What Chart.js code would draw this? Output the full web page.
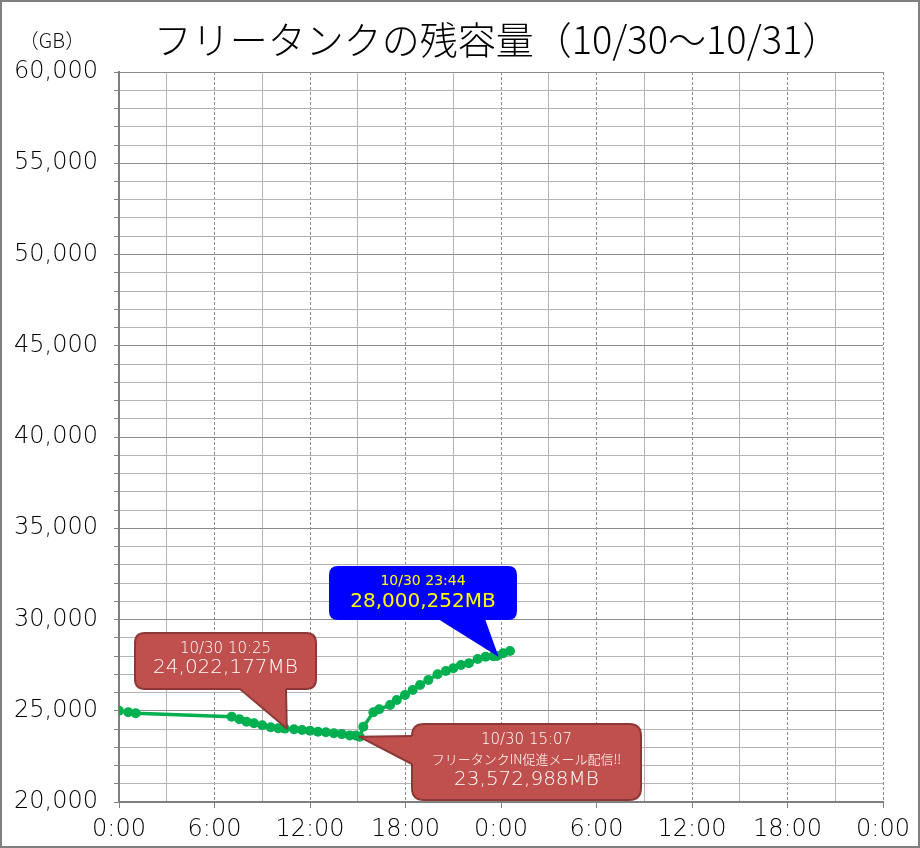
<!DOCTYPE html>
<html>
<head>
<meta charset="utf-8">
<script src="https://cdn.jsdelivr.net/npm/chart.js@4/dist/chart.umd.min.js"></script>
<style>
  html, body { margin: 0; padding: 0; background: #fff; }
  #wrap { width: 920px; height: 848px; position: relative; }
</style>
</head>
<body>
<div id="wrap"><canvas id="c" width="920" height="848"></canvas></div>
<script>
// ---- data ----
const chartTitle = 'フリータンクの残容量（10/30～10/31）';
const unitLabel = '（GB）';
const xTickLabels = ['0:00', '6:00', '12:00', '18:00', '0:00', '6:00', '12:00', '18:00', '0:00'];
const sampleTimes = [
  '10/30 0:00', '10/30 0:35', '10/30 1:03', '10/30 7:05', '10/30 7:34', '10/30 8:01',
  '10/30 8:29', '10/30 9:00', '10/30 9:32', '10/30 10:00', '10/30 10:25', '10/30 11:00',
  '10/30 11:30', '10/30 12:00', '10/30 12:30', '10/30 13:00', '10/30 13:30', '10/30 14:00',
  '10/30 14:30', '10/30 14:53', '10/30 15:07', '10/30 15:21', '10/30 15:59', '10/30 16:21',
  '10/30 17:02', '10/30 17:27', '10/30 17:58', '10/30 18:27', '10/30 18:55', '10/30 19:26',
  '10/30 20:01', '10/30 20:32', '10/30 21:00', '10/30 21:29', '10/30 21:59', '10/30 22:32',
  '10/30 23:02', '10/30 23:31', '10/30 23:44', '10/31 0:08', '10/31 0:34'
];
const remainingGB = [
  25000, 24915, 24860, 24674, 24531, 24400,
  24312, 24203, 24093, 24038, 24022, 23984,
  23945, 23907, 23852, 23819, 23764, 23720,
  23650, 23640, 23573, 24126, 24915, 25079,
  25315, 25589, 25863, 26137, 26411, 26685,
  26997, 27178, 27326, 27507, 27600, 27836,
  27962, 27990, 28000, 28148, 28274
];
const callouts = [
  { time: '10/30 10:25', lines: ['10/30 10:25', '24,022,177MB'], kind: 'red-up' },
  { time: '10/30 23:44', lines: ['10/30 23:44', '28,000,252MB'], kind: 'blue' },
  { time: '10/30 15:07', lines: ['10/30 15:07', 'フリータンクIN促進メール配信!!', '23,572,988MB'], kind: 'red-left' }
];

function toHours(s) {
  const [d, t] = s.split(' ');
  const day = parseInt(d.split('/')[1], 10) - 30;
  const [h, m] = t.split(':').map(Number);
  return day * 24 + h + m / 60;
}
const points = sampleTimes.map((t, i) => ({ x: toHours(t), y: remainingGB[i] }));

const FONT_NUM = '"DejaVu Sans", "Noto Sans", sans-serif';
const FONT_JP = '"Noto Sans CJK JP", "Noto Sans", sans-serif';

function roundRect(ctx, x, y, w, h, r) {
  ctx.beginPath();
  ctx.moveTo(x + r, y);
  ctx.lineTo(x + w - r, y);
  ctx.quadraticCurveTo(x + w, y, x + w, y + r);
  ctx.lineTo(x + w, y + h - r);
  ctx.quadraticCurveTo(x + w, y + h, x + w - r, y + h);
  ctx.lineTo(x + r, y + h);
  ctx.quadraticCurveTo(x, y + h, x, y + h - r);
  ctx.lineTo(x, y + r);
  ctx.quadraticCurveTo(x, y, x + r, y);
  ctx.closePath();
}

const decorPlugin = {
  id: 'decor',
  afterDraw(chart) {
    const ctx = chart.ctx;
    ctx.save();
    // outer frame
    ctx.strokeStyle = '#7f7f7f';
    ctx.lineWidth = 2;
    ctx.strokeRect(1, 1, 918, 846);
    // title
    ctx.fillStyle = '#000';
    ctx.textAlign = 'center';
    ctx.textBaseline = 'middle';
    ctx.font = '300 38px ' + FONT_JP;
    ctx.fillText(chartTitle, 497, 40);
    ctx.font = '300 20px ' + FONT_JP;
    ctx.fillStyle = '#111';
    ctx.fillText(unitLabel, 52, 40);

    const xs = chart.scales.x, ys = chart.scales.y;
    callouts.forEach(c => {
      const idx = sampleTimes.indexOf(c.time);
      const tx = xs.getPixelForValue(toHours(c.time));
      const ty = ys.getPixelForValue(remainingGB[idx]);
      ctx.lineJoin = 'round';
      if (c.kind === 'red-up') {
        const bx = 135, by = 633, bw = 181, bh = 56;
        ctx.fillStyle = '#C0504D';
        ctx.strokeStyle = '#8C3836';
        ctx.lineWidth = 2;
        roundRect(ctx, bx, by, bw, bh, 10);
        ctx.fill(); ctx.stroke();
        ctx.beginPath();
        ctx.moveTo(240, by + bh - 1);
        ctx.lineTo(tx + 2, ty);
        ctx.lineTo(286, by + bh - 1);
        ctx.closePath();
        ctx.fill();
        ctx.beginPath();
        ctx.moveTo(240, by + bh); ctx.lineTo(tx + 2, ty); ctx.lineTo(286, by + bh);
        ctx.stroke();
        ctx.fillStyle = '#C0504D';
        ctx.fillRect(242, by + bh - 3, 42, 3);
        ctx.fillStyle = '#fff';
        ctx.textAlign = 'center';
        ctx.font = '200 15px ' + FONT_NUM;
        ctx.fillText(c.lines[0], bx + bw / 2, 649);
        ctx.font = '200 20px ' + FONT_NUM;
        ctx.fillText(c.lines[1], bx + bw / 2, 668);
      } else if (c.kind === 'blue') {
        const bx = 329, by = 566, bw = 188, bh = 54;
        ctx.fillStyle = '#0000FF';
        roundRect(ctx, bx, by, bw, bh, 9);
        ctx.fill();
        ctx.beginPath();
        ctx.moveTo(438, by + bh - 1);
        ctx.lineTo(tx + 2, ty + 1);
        ctx.lineTo(485, by + bh - 1);
        ctx.closePath();
        ctx.fill();
        ctx.fillStyle = '#FFFF00';
        ctx.textAlign = 'center';
        ctx.font = '14px ' + FONT_NUM;
        ctx.fillText(c.lines[0], bx + bw / 2, 581);
        ctx.font = '20px ' + FONT_NUM;
        ctx.fillText(c.lines[1], bx + bw / 2, 602);
      } else {
        const bx = 412, by = 724, bw = 229, bh = 76;
        ctx.fillStyle = '#C0504D';
        ctx.strokeStyle = '#8C3836';
        ctx.lineWidth = 2;
        roundRect(ctx, bx, by, bw, bh, 12);
        ctx.fill(); ctx.stroke();
        ctx.beginPath();
        ctx.moveTo(bx + 1, 736);
        ctx.lineTo(tx, ty);
        ctx.lineTo(bx + 1, 764);
        ctx.closePath();
        ctx.fill();
        ctx.beginPath();
        ctx.moveTo(bx, 736); ctx.lineTo(tx, ty); ctx.lineTo(bx, 764);
        ctx.stroke();
        ctx.fillStyle = '#C0504D';
        ctx.fillRect(bx - 1, 738, 4, 24);
        ctx.fillStyle = '#fff';
        ctx.textAlign = 'center';
        ctx.font = '200 15px ' + FONT_NUM;
        ctx.fillText(c.lines[0], bx + bw / 2, 740);
        ctx.font = '300 13px ' + FONT_JP;
        ctx.fillText(c.lines[1], bx + bw / 2, 759);
        ctx.font = '200 20px ' + FONT_NUM;
        ctx.fillText(c.lines[2], bx + bw / 2, 780);
      }
    });
    ctx.restore();
  }
};

new Chart(document.getElementById('c'), {
  type: 'line',
  data: {
    datasets: [{
      data: points,
      borderColor: '#00B050',
      backgroundColor: '#00B050',
      borderWidth: 3.5,
      pointRadius: 5,
      pointHoverRadius: 5,
      pointBackgroundColor: '#00B050',
      pointBorderWidth: 0,
      tension: 0
    }]
  },
  options: {
    responsive: false,
    animation: false,
    events: [],
    layout: { padding: { top: 72, right: 37, bottom: 0, left: 0 } },
    plugins: { legend: { display: false }, tooltip: { enabled: false }, title: { display: false } },
    scales: {
      x: {
        type: 'linear',
        min: 0, max: 48,
        afterFit(s) { s.height = 46; },
        afterBuildTicks(s) {
          const t = [];
          for (let v = 0; v <= 48; v += 3) t.push({ value: v });
          s.ticks = t;
        },
        ticks: {
          autoSkip: false, maxRotation: 0, minRotation: 0,
          padding: 7,
          color: '#000',
          font: { family: FONT_NUM, size: 24, weight: 200 },
          callback(v) { return v % 6 === 0 ? xTickLabels[v / 6] : ''; }
        },
        grid: {
          color(ctx) {
            if (!ctx.tick) return '#a6a6a6';
            return ctx.tick.value % 6 === 0 ? '#8c8c8c' : '#b4b4b4';
          },
          lineWidth: 1,
          tickLength: 6,
          tickColor(ctx) { return ctx.tick && ctx.tick.value % 6 === 0 ? '#7f7f7f' : 'rgba(0,0,0,0)'; }
        },
        border: {
          color: '#7f7f7f', width: 2,
          dash(ctx) { return ctx.tick && ctx.tick.value % 6 === 0 && ctx.tick.value !== 0 ? [3, 2] : []; }
        }
      },
      y: {
        min: 20000, max: 60000,
        afterFit(s) { s.width = 119; },
        afterBuildTicks(s) {
          const t = [];
          for (let v = 20000; v <= 60000; v += 1000) t.push({ value: v });
          s.ticks = t;
        },
        ticks: {
          autoSkip: false,
          padding: 16,
          color: '#000',
          font: { family: FONT_NUM, size: 24, weight: 200 },
          callback(v) { return v % 5000 === 0 ? v.toLocaleString('en-US') : ''; }
        },
        grid: {
          color(ctx) {
            if (!ctx.tick) return '#a6a6a6';
            return ctx.tick.value % 5000 === 0 ? '#8c8c8c' : '#b4b4b4';
          },
          lineWidth: 1,
          tickLength: 5,
          tickColor: '#7f7f7f'
        },
        border: { color: '#7f7f7f', width: 2 }
      }
    }
  },
  plugins: [decorPlugin]
});
</script>
</body>
</html>
